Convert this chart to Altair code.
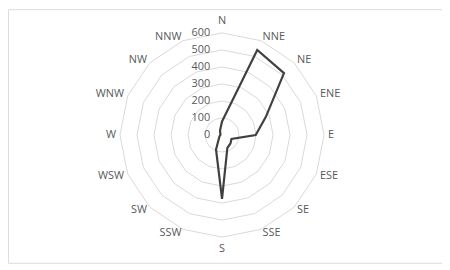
import altair as alt
import pandas as pd

directions = ["N", "NNE", "NE", "ENE", "E", "ESE", "SE", "SSE",
              "S", "SSW", "SW", "WSW", "W", "WNW", "NW", "NNW"]
values = [80, 541, 515, 279, 198, 60, 70, 82,
          375, 92, 25, 15, 10, 10, 15, 30]
ticks = [0, 100, 200, 300, 400, 500, 600]

LABEL_R = 623
FONT = "Open Sans"

series = pd.DataFrame({"dir": directions, "idx": list(range(len(directions))), "value": values})
rings = pd.DataFrame(
    [{"ring": t, "idx": i} for t in ticks[1:] for i in range(len(directions))]
)
tick_df = pd.DataFrame({"tick": ticks})
dir_df = pd.DataFrame({"dir": directions, "idx": list(range(len(directions)))})

xs = alt.Scale(domain=[-1258, 1293], nice=False, zero=False)
ys = alt.Scale(domain=[-751.3, 739.7], nice=False, zero=False)

ang = "datum.idx * PI / 8"

ring_layer = alt.Chart(rings).transform_calculate(
    a=ang
).transform_calculate(
    x="datum.ring * sin(datum.a)", y="datum.ring * cos(datum.a)"
).mark_line(interpolate="linear-closed", color="#d9d9d9", strokeWidth=1).encode(
    x=alt.X("x:Q", scale=xs, axis=None),
    y=alt.Y("y:Q", scale=ys, axis=None),
    detail="ring:N",
    order="idx:Q",
)

series_layer = alt.Chart(series).transform_calculate(
    a=ang
).transform_calculate(
    x="datum.value * sin(datum.a)", y="datum.value * cos(datum.a)"
).mark_line(interpolate="linear-closed", color="#404040", strokeWidth=2.2).encode(
    x=alt.X("x:Q", scale=xs, axis=None),
    y=alt.Y("y:Q", scale=ys, axis=None),
    order="idx:Q",
)

tick_layer = alt.Chart(tick_df).transform_calculate(x="0").mark_text(
    align="right", baseline="middle", dx=-12, fontSize=11,
    font=FONT, color="#595959"
).encode(
    x=alt.X("x:Q", scale=xs, axis=None),
    y=alt.Y("tick:Q", scale=ys, axis=None),
    text=alt.Text("tick:Q"),
)

def dir_layer(filt, align, baseline, dy=0):
    return alt.Chart(dir_df).transform_filter(filt).transform_calculate(
        a=ang
    ).transform_calculate(
        x=f"{LABEL_R} * sin(datum.a)", y=f"{LABEL_R} * cos(datum.a)"
    ).mark_text(
        align=align, baseline=baseline, dy=dy, fontSize=11,
        font=FONT, color="#595959"
    ).encode(
        x=alt.X("x:Q", scale=xs, axis=None),
        y=alt.Y("y:Q", scale=ys, axis=None),
        text="dir:N",
    )

east = dir_layer("datum.idx > 0 && datum.idx < 8", "left", "middle")
west = dir_layer("datum.idx > 8", "right", "middle")
north = dir_layer("datum.idx == 0", "center", "bottom", -3)
south = dir_layer("datum.idx == 8", "center", "top", 2)

chart = alt.layer(ring_layer, series_layer, tick_layer, east, west, north, south).properties(
    width=438, height=256, padding=0, autosize=alt.AutoSizeParams(type="none")
).configure_view(stroke="#d9d9d9", strokeWidth=1).configure(background="white")

chart.save("out.html", embed_options={"renderer": "svg", "actions": False})
